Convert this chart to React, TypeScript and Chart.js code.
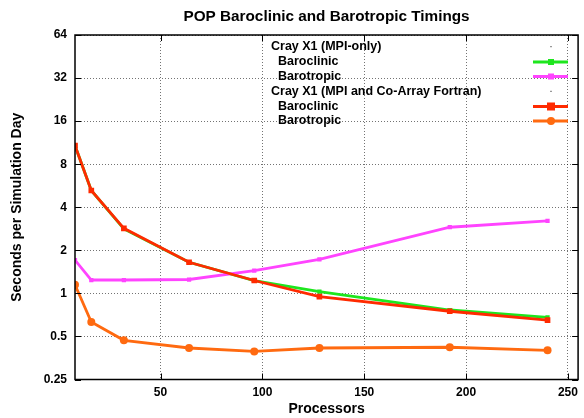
import React, { useEffect, useRef } from "react";
import { Chart, registerables } from "chart.js";

Chart.register(...registerables);

const processors = [8, 16, 32, 64, 96, 128, 192, 240];
const mpiBaroclinic = [10.8, 5.24, 2.82, 1.65, 1.23, 1.03, 0.765, 0.68];
const mpiBarotropic = [1.71, 1.24, 1.24, 1.25, 1.44, 1.73, 2.9, 3.21];
const cafBaroclinic = [10.8, 5.24, 2.85, 1.65, 1.23, 0.95, 0.75, 0.65];
const cafBarotropic = [1.15, 0.63, 0.47, 0.415, 0.393, 0.415, 0.42, 0.4];
const yTicks = [0.25, 0.5, 1, 2, 4, 8, 16, 32, 64];
const xTicks = [50, 100, 150, 200, 250];

const GREEN = "#1ee61e";
const MAGENTA = "#ff44ff";
const RED = "#ff2a00";
const ORANGE = "#ff6a10";
const FONT = "'Liberation Sans', Arial, Helvetica, sans-serif";

const legendRows = [
  { text: "Cray X1 (MPI-only)", indent: false, color: null as string | null, style: "" },
  { text: "Baroclinic", indent: true, color: GREEN, style: "rect" },
  { text: "Barotropic", indent: true, color: MAGENTA, style: "rect" },
  { text: "Cray X1 (MPI and Co-Array Fortran)", indent: false, color: null, style: "" },
  { text: "Baroclinic", indent: true, color: RED, style: "rect" },
  { text: "Barotropic", indent: true, color: ORANGE, style: "circle" },
];

const decorPlugin = {
  id: "decor",
  afterDraw(chart: any) {
    const ctx = chart.ctx;
    const a = chart.chartArea;
    const xs = chart.scales.x;
    const ys = chart.scales.y;
    ctx.save();
    // border
    ctx.strokeStyle = "#000";
    ctx.lineWidth = 1.5;
    ctx.strokeRect(a.left, a.top, a.right - a.left, a.bottom - a.top);
    // inward ticks
    ctx.lineWidth = 1;
    ctx.beginPath();
    yTicks.forEach((v) => {
      const y = Math.round(ys.getPixelForValue(v)) + 0.5;
      ctx.moveTo(a.left, y);
      ctx.lineTo(a.left + 6, y);
      ctx.moveTo(a.right, y);
      ctx.lineTo(a.right - 6, y);
    });
    xTicks.forEach((v) => {
      const x = Math.round(xs.getPixelForValue(v)) + 0.5;
      ctx.moveTo(x, a.bottom);
      ctx.lineTo(x, a.bottom - 6);
      ctx.moveTo(x, a.top);
      ctx.lineTo(x, a.top + 6);
    });
    ctx.stroke();

    // title
    ctx.fillStyle = "#000";
    ctx.font = `bold 15.3px ${FONT}`;
    ctx.textAlign = "center";
    ctx.textBaseline = "middle";
    ctx.fillText("POP Baroclinic and Barotropic Timings", (a.left + a.right) / 2, 16.5);
    // x title
    ctx.font = `bold 14px ${FONT}`;
    ctx.fillText("Processors", (a.left + a.right) / 2, 409);
    // y title
    ctx.save();
    ctx.translate(17, (a.top + a.bottom) / 2);
    ctx.rotate(-Math.PI / 2);
    ctx.fillText("Seconds per Simulation Day", 0, 0);
    ctx.restore();

    // legend
    ctx.font = `bold 12.5px ${FONT}`;
    ctx.textAlign = "left";
    const rowY = [46.7, 62, 76.5, 91.3, 106.5, 121];
    legendRows.forEach((r, i) => {
      const y = rowY[i];
      ctx.fillStyle = "#000";
      ctx.fillText(r.text, r.indent ? 278 : 271, y);
      if (r.color) {
        ctx.strokeStyle = r.color;
        ctx.lineWidth = 2.8;
        ctx.beginPath();
        ctx.moveTo(533, y);
        ctx.lineTo(568, y);
        ctx.stroke();
        ctx.fillStyle = r.color;
        if (r.style === "circle") {
          ctx.beginPath();
          ctx.arc(551, y, 4, 0, Math.PI * 2);
          ctx.fill();
        } else {
          const s = r.color === RED ? 4 : 3;
          ctx.fillRect(551 - s, y - s, s * 2, s * 2);
        }
      } else {
        ctx.fillStyle = "#000";
        ctx.fillRect(550.5, y - 0.5, 1, 1);
      }
    });
    ctx.restore();
  },
};

export default function App() {
  const ref = useRef<HTMLCanvasElement | null>(null);
  useEffect(() => {
    if (!ref.current) return;
    const mk = (label: string, data: number[], color: string, style: string, r: number, order: number) => ({
      label,
      data: processors.map((p, i) => ({ x: p, y: data[i] })),
      borderColor: color,
      backgroundColor: color,
      borderWidth: 2.8,
      pointStyle: style,
      pointRadius: r,
      pointBorderWidth: 0,
      pointHoverRadius: r,
      tension: 0,
      order,
    });
    const chart = new Chart(ref.current, {
      type: "line",
      data: {
        datasets: [
          mk("Cray X1 (MPI-only) Baroclinic", mpiBaroclinic, GREEN, "rect", 3, 4),
          mk("Cray X1 (MPI-only) Barotropic", mpiBarotropic, MAGENTA, "rect", 3, 3),
          mk("Cray X1 (MPI and Co-Array Fortran) Baroclinic", cafBaroclinic, RED, "rect", 4, 2),
          mk("Cray X1 (MPI and Co-Array Fortran) Barotropic", cafBarotropic, ORANGE, "circle", 4, 1),
        ] as any,
      },
      options: {
        animation: false,
        responsive: false,
        events: [],
        layout: { padding: { left: 0, right: 3, top: 35, bottom: 0 } },
        plugins: { legend: { display: false }, title: { display: false }, tooltip: { enabled: false } },
        scales: {
          x: {
            type: "linear",
            min: 8,
            max: 255,
            afterBuildTicks: (s: any) => {
              s.ticks = xTicks.map((v) => ({ value: v }));
            },
            afterFit: (s: any) => {
              s.height = 38.5;
            },
            grid: { color: "rgba(0,0,0,0.55)", lineWidth: 1, drawTicks: false } as any,
            border: { display: false, dash: [1, 2] },
            ticks: {
              padding: 6,
              color: "#000",
              font: { family: FONT, weight: "bold", size: 12 },
              maxRotation: 0,
              callback: (v: any) => String(v),
            },
          },
          y: {
            type: "logarithmic",
            min: 0.25,
            max: 64,
            afterBuildTicks: (s: any) => {
              s.ticks = yTicks.map((v) => ({ value: v }));
            },
            afterFit: (s: any) => {
              s.width = 75;
            },
            grid: { color: "rgba(0,0,0,0.55)", lineWidth: 1, drawTicks: false } as any,
            border: { display: false, dash: [1, 2] },
            ticks: {
              padding: 8,
              color: "#000",
              font: { family: FONT, weight: "bold", size: 12 },
              callback: (v: any) => String(v),
            },
          },
        },
      } as any,
      plugins: [decorPlugin],
    });
    return () => chart.destroy();
  }, []);
  return (
    <div style={{ position: "absolute", left: 0, top: 0, width: 584, height: 418, background: "#fff" }}>
      <canvas ref={ref} width={584} height={418} style={{ width: 584, height: 418 }} />
    </div>
  );
}
